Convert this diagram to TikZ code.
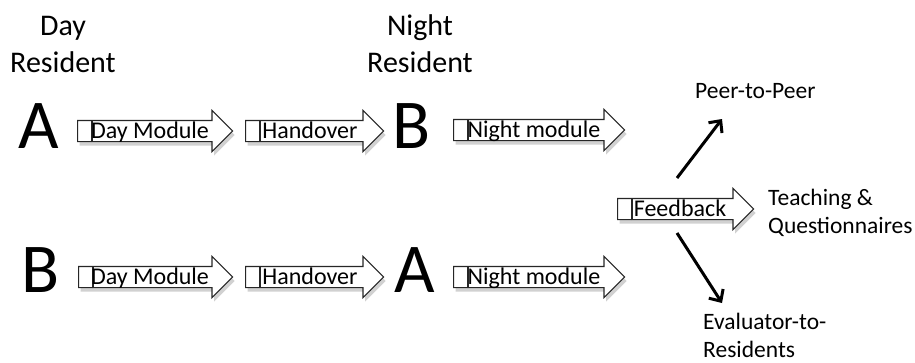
\documentclass[tikz,border=0pt]{standalone}
\usepackage{fontspec}
\setmainfont{Carlito}
\usetikzlibrary{shapes.arrows,shadows,arrows.meta}
\tikzset{
  barrow/.style={shape=single arrow, draw=black!85, line width=1.1pt, fill=white,
    inner sep=0pt, text height=20pt, text depth=0pt, text width=0pt,
    minimum width=40pt, single arrow head extend=10pt, single arrow tip angle=90,
    anchor=tail,
    drop shadow={shadow xshift=2pt, shadow yshift=-4pt, opacity=0.18, fill=black}},
  blab/.style={font=\fontsize{24}{24}\selectfont, anchor=base, inner sep=0pt},
  big/.style={font=\fontsize{70}{70}\selectfont, anchor=base, inner sep=0pt},
  head/.style={font=\fontsize{30}{37}\selectfont, align=center, inner sep=0pt, anchor=base},
  outlab/.style={font=\fontsize{23.5}{28}\selectfont, align=left, inner sep=0pt, anchor=base west},
  fbarrow/.style={line width=3pt, -{Straight Barb[length=9pt,width=17pt,line width=3pt]}}
}
\begin{document}
\begin{tikzpicture}[x=1pt,y=-1pt]
\useasboundingbox (0,0) rectangle (915,362);
% headers (base = last line)
\node[head] (dayres) at (63,72) {Day\\Resident};
\node[head] (nightres) at (420,72) {Night\\Resident};
% letters
\node[big] (A1) at (39,148) {A};
\node[big] (B1) at (412,148) {B};
\node[big] (B2) at (41,292) {B};
\node[big] (A2) at (415,292) {A};
% row 1 arrows
\node[barrow, minimum height=155pt] (dm1) at (77,131) {};
\node[barrow, minimum height=138pt] (ho1) at (245,131) {};
\node[barrow, minimum height=171pt] (nm1) at (453,130) {};
% row 2 arrows
\node[barrow, minimum height=154pt] (dm2) at (78,277) {};
\node[barrow, minimum height=138pt] (ho2) at (245,277) {};
\node[barrow, minimum height=171pt] (nm2) at (453,277) {};
% feedback arrow
\node[barrow, minimum height=136pt] (fb) at (617,209) {};
% inner stripes
\foreach \n in {dm1,ho1,nm1,dm2,ho2,nm2,fb}{
  \draw[black!85, line width=1.1pt] ([xshift=15pt]\n.before tail) -- ([xshift=15pt]\n.after tail);
}
% labels
\node[blab] (ldm1) at (150,138) {Day Module};
\node[blab] (lho1) at (310,138) {Handover};
\node[blab] (lnm1) at (534,137) {Night module};
\node[blab] (ldm2) at (150,284) {Day Module};
\node[blab] (lho2) at (310,284) {Handover};
\node[blab] (lnm2) at (534,284) {Night module};
\node[blab] (lfb) at (680,216) {Feedback};
% outcome labels (base = last line)
\node[outlab] (peer) at (695,98) {Peer-to-Peer};
\node[outlab] (teach) at (768,233) {Teaching \&\\Questionnaires};
\node[outlab] (eval) at (703,357) {Evaluator-to-\\Residents};
% connectors
\coordinate (upS) at (677,178);
\coordinate (upE) at (722,119);
\coordinate (dnS) at (677,233);
\coordinate (dnE) at (722,303);
\draw[fbarrow] (upS) -- (upE);
\draw[fbarrow] (dnS) -- (dnE);
\end{tikzpicture}
\end{document}
